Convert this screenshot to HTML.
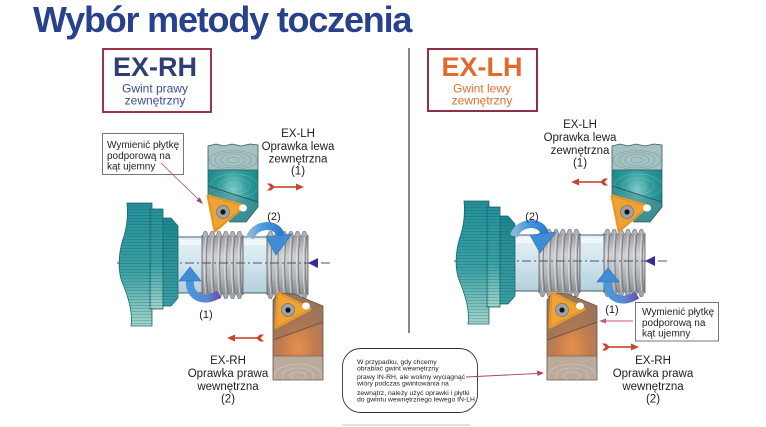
<!DOCTYPE html>
<html><head><meta charset="utf-8"><style>
html,body{margin:0;padding:0;background:#fff;}
svg{display:block;font-family:"Liberation Sans",Arial,sans-serif;}
</style></head><body>
<svg width="766" height="427" viewBox="0 0 766 427" xmlns="http://www.w3.org/2000/svg">
<defs>
<linearGradient id="chuckG" x1="0" y1="0" x2="0" y2="1">
<stop offset="0" stop-color="#25909a"/><stop offset="0.55" stop-color="#3aa0a3"/><stop offset="1" stop-color="#a4d5cb"/>
</linearGradient>
<linearGradient id="chuck3" x1="0" y1="0" x2="0" y2="1">
<stop offset="0" stop-color="#1c8790"/><stop offset="1" stop-color="#3d9ea3"/>
</linearGradient>
<pattern id="str" width="6" height="3" patternUnits="userSpaceOnUse"><rect width="6" height="1" y="2" fill="#0b4f55" fill-opacity="0.22"/></pattern>
<linearGradient id="shaftG" x1="0" y1="0" x2="0" y2="1">
<stop offset="0" stop-color="#e6f2f6"/><stop offset="0.5" stop-color="#d0e4ec"/><stop offset="1" stop-color="#b3cfdc"/>
</linearGradient>
<linearGradient id="thrG" x1="0" y1="0" x2="0" y2="1">
<stop offset="0" stop-color="#9ea1a5"/><stop offset="0.35" stop-color="#cfd1d3"/><stop offset="0.7" stop-color="#b4b7ba"/><stop offset="1" stop-color="#8d9094"/>
</linearGradient>
<pattern id="tt" x="0" y="-34" width="6.8" height="6" patternUnits="userSpaceOnUse"><polygon points="0,6 2.2,0.6 4.6,0.6 6.8,6" fill="#b2b4b7" stroke="#63676c" stroke-width="0.6"/></pattern>
<pattern id="tb" x="0" y="28" width="6.8" height="6" patternUnits="userSpaceOnUse"><polygon points="0,0 2.2,5.4 4.6,5.4 6.8,0" fill="#a3a6a9" stroke="#63676c" stroke-width="0.6"/></pattern>
<pattern id="tl" x="0" y="-28" width="6.8" height="56" patternUnits="userSpaceOnUse"><path d="M5.6,0 Q2.6,28 5.6,56" stroke="#6a6e73" stroke-width="0.8" fill="none"/><path d="M3.6,0 Q0.6,28 3.6,56" stroke="#e4e6e8" stroke-width="0.7" fill="none"/></pattern>
<radialGradient id="tealR" cx="0.5" cy="0.6" r="0.6">
<stop offset="0" stop-color="#7fcac6"/><stop offset="0.45" stop-color="#2c9a9a"/><stop offset="1" stop-color="#177d80"/>
</radialGradient>
<radialGradient id="brownR" cx="0.5" cy="0.62" r="0.6">
<stop offset="0" stop-color="#e58f4b"/><stop offset="0.5" stop-color="#c27c4e"/><stop offset="1" stop-color="#9c7c64"/>
</radialGradient>
<linearGradient id="blueA" x1="0" y1="0" x2="1" y2="0">
<stop offset="0" stop-color="#8fb7d6"/><stop offset="0.4" stop-color="#4b9be0"/><stop offset="1" stop-color="#2f7cc8"/>
</linearGradient>
<linearGradient id="blueB" x1="0" y1="0" x2="1" y2="0">
<stop offset="0" stop-color="#4a98da"/><stop offset="0.6" stop-color="#5a86d0"/><stop offset="1" stop-color="#6a4fb2"/>
</linearGradient>
<clipPath id="thc"><polygon points="208,146 216,144 224,146 232,144 241,146 250,144 258,145 258,207 246,222 230,222 208,200"/></clipPath>
<clipPath id="bhc"><polygon points="278,293 294,294 323,306 323,380 273,380 273,300"/></clipPath>

<g id="thr">
<rect x="0" y="-28" width="41" height="56" fill="url(#thrG)"/>
<rect x="0" y="-28" width="41" height="56" fill="url(#tl)"/>
<rect x="0" y="-34" width="41" height="6" fill="url(#tt)"/>
<rect x="0" y="28" width="41" height="6" fill="url(#tb)"/>
<path d="M0,-30V30M41,-30V30" stroke="#55595e" stroke-width="0.8"/>
</g>

<g id="lathe">
<rect x="177" y="237" width="92" height="56" fill="url(#shaftG)" stroke="#3e4c58" stroke-width="0.9"/>
<rect x="179" y="240" width="22" height="5" fill="#fff" opacity="0.5"/>
<rect x="244" y="240" width="22" height="5" fill="#fff" opacity="0.5"/>
<use href="#thr" transform="translate(202,265)"/>
<use href="#thr" transform="translate(267,265)"/>
<line x1="117" y1="263" x2="330" y2="263" stroke="#4b5566" stroke-width="1" stroke-dasharray="9 3 2 3"/>
<polygon points="308,263 318,258 318,268" fill="#3a2d8e"/>
<g stroke="#1b6a70" stroke-width="0.8">
<path d="M127,203 L152,203 L152,326 L131,326 C133,312 128,296 122,282 C117,268 119,250 124,236 C127,226 128,214 127,203 Z" fill="url(#chuckG)"/>
<rect x="150" y="209" width="13" height="100" fill="url(#chuckG)"/>
<polygon points="163,218 171,218 178,226 178,298 171,306 163,306" fill="url(#chuck3)"/>
</g>
<g>
<path d="M127,203 L152,203 L152,326 L131,326 C133,312 128,296 122,282 C117,268 119,250 124,236 C127,226 128,214 127,203 Z" fill="url(#str)"/>
<rect x="150" y="209" width="13" height="100" fill="url(#str)"/>
<polygon points="163,218 171,218 178,226 178,298 171,306 163,306" fill="url(#str)"/>
</g>
</g>

<g id="th">
<g clip-path="url(#thc)">
<rect x="205" y="140" width="56" height="85" fill="url(#tealR)"/>
<rect x="205" y="140" width="56" height="30" fill="#a5c1c2"/>
<g fill="none" stroke="#7c9fa2" stroke-width="0.6">
<ellipse cx="233" cy="160" rx="6" ry="3"/><ellipse cx="233" cy="160" rx="12" ry="6"/><ellipse cx="233" cy="160" rx="18" ry="8"/><ellipse cx="233" cy="160" rx="24" ry="9.5"/>
</g>
<g fill="none" stroke="#8fd0cc" stroke-width="0.5" opacity="0.6"><ellipse cx="234" cy="186" rx="8" ry="4"/><ellipse cx="234" cy="186" rx="16" ry="8"/><ellipse cx="234" cy="186" rx="24" ry="12"/></g>
<polygon points="205,186 261,202 261,225 205,225" fill="#4c8f91" opacity="0.55"/>
</g>
<polygon points="208,146 216,144 224,146 232,144 241,146 250,144 258,145 258,207 246,222 230,222 208,200" fill="none" stroke="#3b5a5c" stroke-width="0.8"/>
<line x1="208" y1="170" x2="258" y2="170" stroke="#2d5f62" stroke-width="0.8"/>
<line x1="208" y1="186" x2="258" y2="202" stroke="#1c4d50" stroke-width="0.8"/>
</g>

<g id="tin">
<path d="M208,196 L244,206 L215,231 Z" fill="#f0a232" stroke="#f0a232" stroke-width="3" stroke-linejoin="round"/>
<path d="M208,196 L244,206 L215,231 Z" fill="none" stroke="#cf7f1c" stroke-width="0.6" stroke-linejoin="round"/>
<ellipse cx="243" cy="208" rx="4" ry="3.5" fill="#fff"/>
<circle cx="223" cy="212" r="6.5" fill="#9fa3a6" stroke="#6e7275" stroke-width="0.7"/>
<circle cx="223" cy="212" r="2.6" fill="#151515"/>
</g>

<g id="bh">
<g clip-path="url(#bhc)">
<rect x="270" y="290" width="56" height="92" fill="url(#brownR)"/>
<polygon points="270,290 326,290 326,322 273,341 270,341" fill="#8f6f57" opacity="0.5"/>
<rect x="270" y="356" width="56" height="26" fill="#bbab9c"/>
<g fill="none" stroke="#d6cabd" stroke-width="0.6">
<ellipse cx="298" cy="376" rx="8" ry="4"/><ellipse cx="298" cy="376" rx="16" ry="8"/><ellipse cx="298" cy="376" rx="24" ry="12"/>
</g>
</g>
<polygon points="278,293 294,294 323,306 323,380 273,380 273,300" fill="none" stroke="#6b5242" stroke-width="0.8"/>
<line x1="273" y1="340" x2="323" y2="322" stroke="#6b4f3c" stroke-width="0.8"/>
<line x1="273" y1="356" x2="323" y2="356" stroke="#7b624f" stroke-width="0.8"/>
</g>

<g id="bin">
<path d="M278,293 L310,309 L276,327 Z" fill="#f0a232" stroke="#f0a232" stroke-width="3" stroke-linejoin="round"/>
<path d="M278,293 L310,309 L276,327 Z" fill="none" stroke="#cf7f1c" stroke-width="0.6" stroke-linejoin="round"/>
<ellipse cx="306" cy="306" rx="4" ry="3.5" fill="#fff"/>
<circle cx="288" cy="310" r="6.5" fill="#9fa3a6" stroke="#6e7275" stroke-width="0.7"/>
<circle cx="288" cy="310" r="2.6" fill="#151515"/>
</g>

<g id="a2">
<path d="M250,238 C254,224 277,221 281,236" fill="none" stroke="url(#blueA)" stroke-width="8"/>
<polygon points="266,237 292,234 276,255" fill="#3f8dd6" stroke="#2a6db0" stroke-width="0.6"/>
</g>
<g id="a1">
<path d="M190,279 C188,299 206,303 219,294" fill="none" stroke="url(#blueB)" stroke-width="8"/>
<polygon points="179,281 201,281 190,267" fill="#3f8dd6" stroke="#2a6db0" stroke-width="0.6"/>
</g>

<g id="ra" fill="#c8462c">
<rect x="5" y="-0.8" width="25" height="1.6"/>
<polygon points="29,-3.5 37,0 29,3.5"/>
<polygon points="0,-3.5 4,-3.5 8,0 4,3.5 0,3.5 3.5,0"/>
</g>
</defs>

<text x="33" y="32" font-size="36" font-weight="bold" fill="#27418c" letter-spacing="-1.2">Wybór metody toczenia</text>

<rect x="103" y="49" width="108" height="63" fill="#fff" stroke="#9e3447" stroke-width="2"/>
<text x="155" y="76" font-size="27" font-weight="bold" fill="#2f3f73" text-anchor="middle">EX-RH</text>
<text x="155" y="92.5" font-size="12" fill="#3a4c95" text-anchor="middle">Gwint prawy</text>
<text x="155" y="104.5" font-size="12" fill="#3a4c95" text-anchor="middle">zewnętrzny</text>

<rect x="428" y="49" width="109" height="62" fill="#fff" stroke="#8f3049" stroke-width="2"/>
<text x="482" y="76" font-size="27" font-weight="bold" fill="#e36a2c" text-anchor="middle">EX-LH</text>
<text x="482" y="92.5" font-size="12" fill="#e0702f" text-anchor="middle">Gwint lewy</text>
<text x="482" y="104.5" font-size="12" fill="#e0702f" text-anchor="middle">zewnętrzny</text>

<line x1="409" y1="48" x2="409" y2="333" stroke="#3b4866" stroke-width="1.3"/>

<use href="#lathe"/>
<use href="#lathe" transform="translate(337,-2)"/>

<use href="#th"/>
<use href="#tin"/>
<use href="#bh"/>
<use href="#bin"/>
<use href="#th" transform="translate(404,0)"/>
<use href="#tin" transform="translate(404,0)"/>
<use href="#bh" transform="translate(274,0)"/>
<use href="#bin" transform="translate(274,0)"/>

<use href="#a2"/>
<use href="#a1"/>
<use href="#a2" transform="translate(264,-2)"/>
<use href="#a1" transform="translate(418,1)"/>

<use href="#ra" transform="translate(267,187)"/>
<use href="#ra" transform="translate(264,338) scale(-1,1)"/>
<use href="#ra" transform="translate(608,182) scale(-1,1)"/>
<use href="#ra" transform="translate(602,347)"/>

<g font-size="11.5" fill="#222" text-anchor="middle">
<text x="298" y="137">EX-LH</text>
<text x="298" y="150">Oprawka lewa</text>
<text x="298" y="162.5">zewnętrzna</text>
<text x="298" y="174.5">(1)</text>
<text x="228" y="364">EX-RH</text>
<text x="228" y="377">Oprawka prawa</text>
<text x="228" y="390">wewnętrzna</text>
<text x="228" y="402.5">(2)</text>
<text x="580" y="128">EX-LH</text>
<text x="580" y="141">Oprawka lewa</text>
<text x="580" y="154">zewnętrzna</text>
<text x="580" y="166.5">(1)</text>
<text x="653" y="364">EX-RH</text>
<text x="653" y="377">Oprawka prawa</text>
<text x="653" y="390">wewnętrzna</text>
<text x="653" y="402.5">(2)</text>
<text x="274" y="220" font-size="11">(2)</text>
<text x="206" y="318" font-size="11">(1)</text>
<text x="532" y="220" font-size="11">(2)</text>
<text x="612" y="313" font-size="11">(1)</text>
</g>

<rect x="102.5" y="133.5" width="81" height="41" fill="#fff" stroke="#555" stroke-width="0.8"/>
<g font-size="10" fill="#222">
<text x="107" y="148">Wymienić płytkę</text>
<text x="107" y="159">podporową na</text>
<text x="107" y="169.5">kąt ujemny</text>
</g>
<line x1="161" y1="163" x2="198" y2="199" stroke="#b04060" stroke-width="0.8"/>
<polygon points="203,204 196.3,200.9 199.7,197.3" fill="#b04060"/>

<rect x="635.5" y="302.5" width="83" height="38.5" fill="#fff" stroke="#555" stroke-width="0.8"/>
<g font-size="10" fill="#222">
<text x="642" y="315">Wymienić płytkę</text>
<text x="642" y="326">podporową na</text>
<text x="642" y="336.5">kąt ujemny</text>
</g>
<line x1="633" y1="321" x2="604" y2="321" stroke="#c4597a" stroke-width="0.9"/>
<polygon points="599,321 606,318.5 606,323.5" fill="#c4597a"/>

<rect x="342.5" y="348.5" width="135" height="64" rx="18" ry="18" fill="#fff" stroke="#333" stroke-width="0.9"/>
<g font-size="6.8" fill="#222">
<text x="357" y="364">W przypadku, gdy chcemy</text>
<text x="357" y="370.5">obrabiać gwint wewnętrzny</text>
<text x="357" y="379">prawy IN-RH, ale wolimy wyciągnąć</text>
<text x="357" y="385.5">wióry podczas gwintowania na</text>
<text x="357" y="395">zewnątrz, należy użyć oprawki i płytki</text>
<text x="357" y="401.5">do gwintu wewnętrznego lewego IN-LH</text>
</g>
<line x1="466" y1="377" x2="537" y2="373.5" stroke="#b5405e" stroke-width="0.9"/>
<polygon points="544,373 537,370.5 537.5,376" fill="#b5405e"/>

<line x1="342" y1="425" x2="470" y2="425" stroke="#e2e2e2" stroke-width="2"/>
</svg>
</body></html>
